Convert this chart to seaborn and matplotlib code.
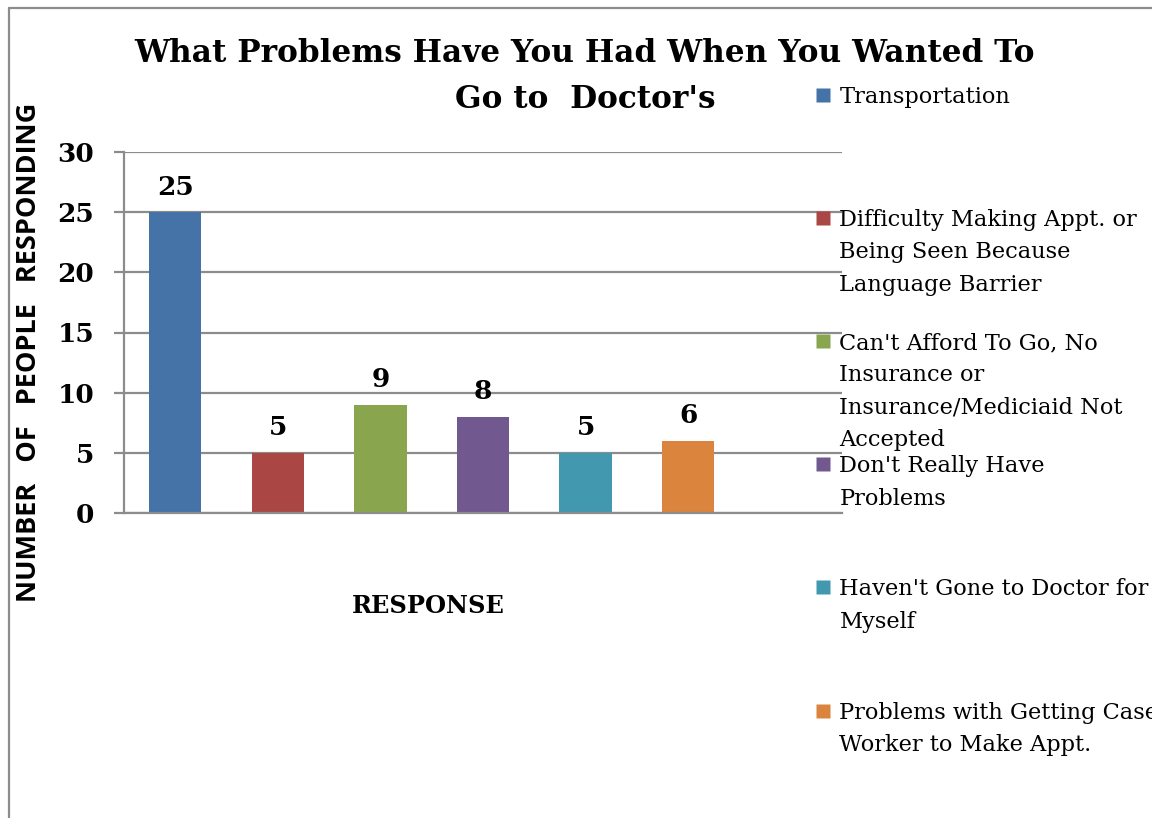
import matplotlib
matplotlib.use("Agg")
import matplotlib.pyplot as plt
import seaborn as sns
import pandas as pd
from matplotlib.lines import Line2D

categories = [
    "Transportation",
    "Difficulty Making Appt. or\nBeing Seen Because\nLanguage Barrier",
    "Can't Afford To Go, No\nInsurance or\nInsurance/Mediciaid Not\nAccepted",
    "Don't Really Have\nProblems",
    "Haven't Gone to Doctor for\nMyself",
    "Problems with Getting Case\nWorker to Make Appt.",
]
values = [25, 5, 9, 8, 5, 6]
colors = ["#4572A7", "#AA4643", "#89A54E", "#71588F", "#4198AF", "#DB843D"]
yticks = [0, 5, 10, 15, 20, 25, 30]
title_lines = ["What Problems Have You Had When You Wanted To", "Go to  Doctor's"]

sns.set_theme(style="white")
plt.rcParams["font.family"] = ["DejaVu Serif"]
plt.rcParams["text.color"] = "black"
plt.rcParams["axes.labelcolor"] = "black"
plt.rcParams["ytick.color"] = "black"

SERIF = "DejaVu Serif"
df = pd.DataFrame({"cat": categories, "val": values})

fig = plt.figure(figsize=(11.52, 8.18), dpi=100)
ax = fig.add_axes([124/1152, 1-513/818, (842-124)/1152, (513-152)/818])

sns.barplot(data=df, x="cat", y="val", hue="cat", palette=colors, order=categories,
            hue_order=categories, width=0.51, dodge=False, legend=False, ax=ax,
            saturation=1, linewidth=0)

ax.set_xlim(-0.5, 6.5)
ax.set_ylim(0, 30)
ax.set_yticks(yticks)
ax.set_yticklabels([str(t) for t in yticks], fontsize=19, fontweight="bold", family=SERIF)
ax.set_xticks([])
ax.yaxis.grid(True, color="#8c8c8c", linewidth=1.6)
ax.set_axisbelow(True)
for s in ["top", "right"]:
    ax.spines[s].set_visible(False)
for s in ["left", "bottom"]:
    ax.spines[s].set_color("#8c8c8c")
    ax.spines[s].set_linewidth(1.6)
ax.tick_params(axis="y", length=7.5, width=1.6, color="#8c8c8c", left=True, pad=14,
               labelcolor="black")

for i, v in enumerate(values):
    ax.annotate(str(v), (i, v), xytext=(0, 9), textcoords="offset points",
                ha="center", va="bottom", fontsize=19, fontweight="bold", family=SERIF)

ax.set_xlabel("RESPONSE", fontsize=17.4, fontweight="bold", family=SERIF)
ax.xaxis.set_label_coords((428-124)/718, -(594-513)/361)
ax.set_ylabel("NUMBER   OF   PEOPLE   RESPONDING", fontsize=19.5, fontweight="bold", family="Open Sans")
ax.yaxis.set_label_coords(-(124-42)/718, (513-352)/361)

for line, yc in zip(title_lines, [53, 99]):
    fig.text(585/1152, 1-yc/818, line, ha="center", va="center", fontsize=22.4,
             fontweight="bold", family=SERIF)

handles = [Line2D([], [], marker="s", linestyle="none", markersize=10.5,
                  markerfacecolor=c, markeredgecolor="none") for c in colors]
labels = []
for c in categories:
    n = c.count("\n") + 1
    labels.append(c + "\n" * (4 - n) if n < 4 else c)
leg = fig.legend(handles, labels, loc="upper left", bbox_to_anchor=(816/1152, 1-86/818),
                 frameon=False, labelspacing=0.2, handlelength=0.64, handleheight=1.05,
                 handletextpad=0.4, borderaxespad=0, borderpad=0,
                 prop={"family": SERIF, "size": 16.2})
for t in leg.get_texts():
    t.set_linespacing(1.6)
    t.set_color("black")
for col in leg._legend_handle_box.get_children():
    for item in col.get_children():
        item.align = "top"

fig.add_artist(Line2D([9/1152, 9/1152], [0, 1-8/818], transform=fig.transFigure, color="#8c8c8c", lw=1.6))
fig.add_artist(Line2D([9/1152, 1], [1-8/818, 1-8/818], transform=fig.transFigure, color="#8c8c8c", lw=1.6))

fig.savefig("out.png", dpi=100)
